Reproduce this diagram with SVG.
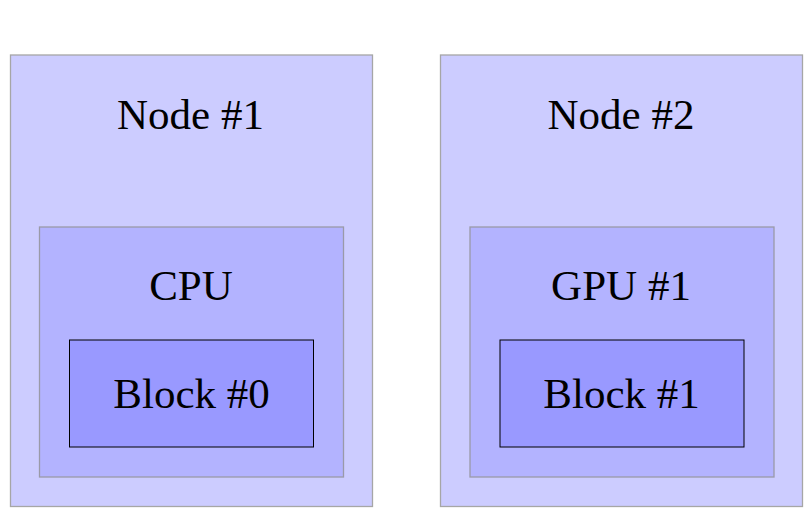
<svg xmlns="http://www.w3.org/2000/svg" width="809" height="515" viewBox="0 0 809 515">
<style>
.outer{fill:#ccccff;stroke:#a6a6a6;stroke-width:1.3}
.inner{fill:#b3b3ff;stroke:#9a9aa8;stroke-width:1.3}
.block{fill:#9999ff;stroke:#000;stroke-width:1}
text{font-family:"Liberation Serif","Times New Roman",serif;font-size:43px;fill:#000;text-anchor:middle}
</style>
<rect width="809" height="515" fill="#fff"/>
<g id="node1">
<rect class="outer" x="10.5" y="55" width="362" height="451.5"/>
<text x="190.5" y="129">Node #1</text>
<g id="cpu">
<rect class="inner" x="39.5" y="227" width="304" height="250"/>
<text x="191" y="300">CPU</text>
<g id="block0">
<rect class="block" x="69.5" y="340" width="244" height="107"/>
<text x="191.5" y="407.5">Block #0</text>
</g>
</g>
</g>
<g id="node2">
<rect class="outer" x="440.5" y="55" width="362" height="451.5"/>
<text x="621" y="129">Node #2</text>
<g id="gpu1">
<rect class="inner" x="470" y="227" width="304" height="250"/>
<text x="621" y="300">GPU #1</text>
<g id="block1">
<rect class="block" x="500" y="340" width="244" height="107"/>
<text x="621.5" y="407.5">Block #1</text>
</g>
</g>
</g>
<g id="connectors"/>
</svg>
